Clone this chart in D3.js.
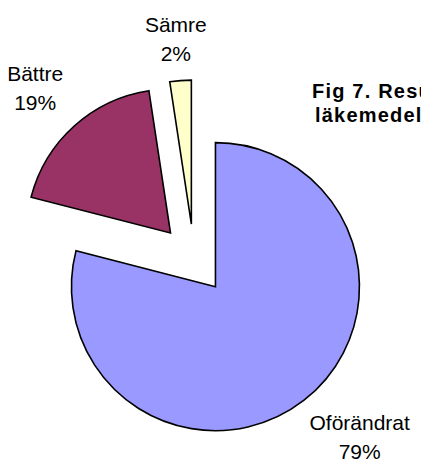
<!DOCTYPE html>
<html>
<head>
<meta charset="utf-8">
<script src="https://cdn.jsdelivr.net/npm/d3@7"></script>
<style>
  html, body { margin: 0; padding: 0; background: #fff; }
  svg { display: block; font-family: "Liberation Sans", Arial, sans-serif; }
</style>
</head>
<body>
<svg id="chart" width="421" height="463"></svg>
<script>
// data
var categories = ['Oförändrat', 'Bättre', 'Sämre'];
var values = [79, 18.6, 2.4];
var colors = ['#9999ff', '#993366', '#ffffcc'];
var titleLines = ['Fig 7. Resultat av', 'läkemedelsgenomgång'];

var svg = d3.select('#chart');
var cx = 194, cy = 259, radius = 144, explode = 35, labelR = 195;

var total = d3.sum(values);
var pct = function(v) { return Math.round(v / total * 100) + '%'; };

var pie = d3.pie().sort(null).value(function(d) { return d; });
var arc = d3.arc().innerRadius(0).outerRadius(radius);
var slices = pie(values);

var g = svg.append('g').attr('transform', 'translate(' + cx + ',' + cy + ')');

g.selectAll('path.slice')
    .data(slices)
  .enter().append('path')
    .attr('class', 'slice')
    .attr('d', arc)
    .attr('transform', function(d) {
        var a = (d.startAngle + d.endAngle) / 2;
        return 'translate(' + (Math.sin(a) * explode) + ',' + (-Math.cos(a) * explode) + ')';
    })
    .style('fill', function(d, i) { return colors[i]; })
    .style('stroke', '#000')
    .style('stroke-width', 1.6)
    .style('stroke-linejoin', 'miter');

// labels, excel-ish placement outside the slice
var clamp = function(v) { return Math.max(-1, Math.min(1, v)); };
var labels = g.selectAll('g.label')
    .data(slices)
  .enter().append('g')
    .attr('class', 'label');

labels.each(function(d, i) {
    var lg = d3.select(this);
    var t1 = lg.append('text').attr('text-anchor', 'middle')
        .style('font-size', '21px').style('fill', '#000')
        .text(categories[i]);
    var t2 = lg.append('text').attr('text-anchor', 'middle')
        .style('font-size', '21px').style('fill', '#000')
        .text(pct(values[i]));
    var w = Math.max(t1.node().getComputedTextLength(), t2.node().getComputedTextLength());
    var h = 50;
    var a = (d.startAngle + d.endAngle) / 2;
    var ax = Math.sin(a) * labelR, ay = -Math.cos(a) * labelR;
    var bx = ax + clamp(Math.sin(a) * 1.5) * w / 2;
    var by = ay - clamp(Math.cos(a) * 1.5) * h / 2;
    t1.attr('x', bx).attr('y', by - 8);
    t2.attr('x', bx).attr('y', by + 21);
});

// title (runs off the right edge in the original)
svg.selectAll('text.title')
    .data(titleLines)
  .enter().append('text')
    .attr('class', 'title')
    .attr('x', function(d, i) { return i === 0 ? 312 : 315; })
    .attr('y', function(d, i) { return 98 + i * 24; })
    .style('font-size', '20px')
    .style('font-weight', 'bold')
    .style('letter-spacing', '1.2px')
    .style('fill', '#000')
    .text(function(d) { return d; });
</script>
</body>
</html>
